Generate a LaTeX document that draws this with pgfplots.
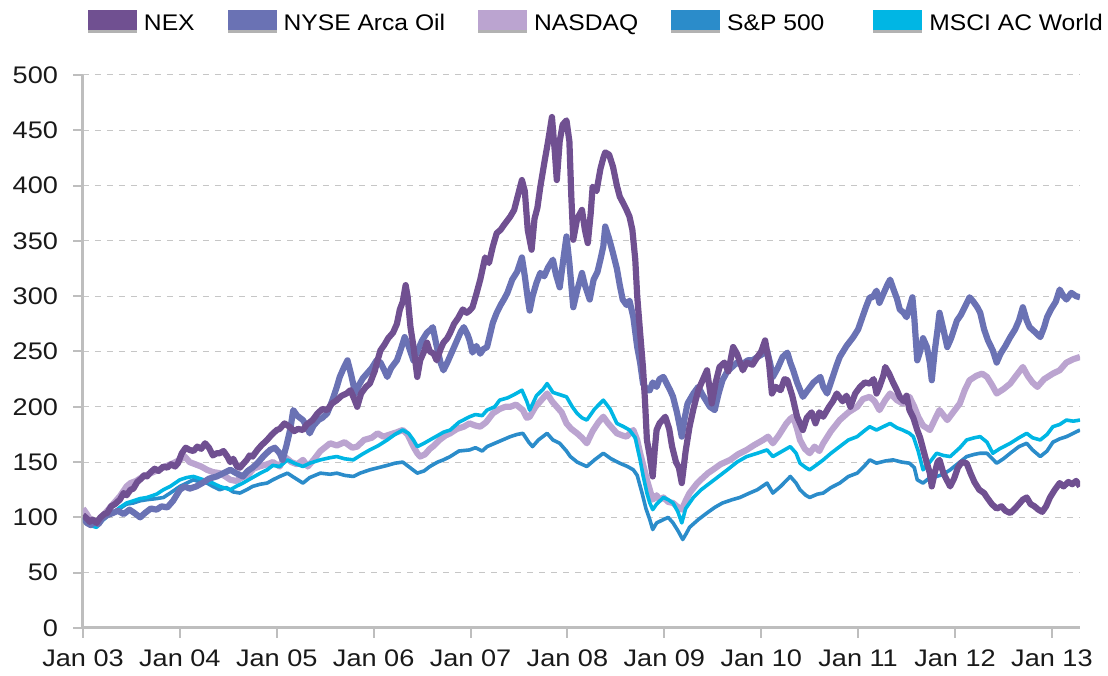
\documentclass[border=0pt]{standalone}
\usepackage{pgfplots}
\pgfplotsset{compat=1.18}
\usepackage{fontspec}
\setmainfont{Liberation Sans}
\definecolor{cnex}{RGB}{112,80,145}
\definecolor{cnyse}{RGB}{106,114,180}
\definecolor{cnasdaq}{RGB}{187,164,208}
\definecolor{csp}{RGB}{43,140,202}
\definecolor{cmsci}{RGB}{0,182,228}
\definecolor{axgray}{RGB}{190,190,190}
\newcommand{\wide}[1]{\scalebox{1.13}[1]{#1}}
\newcommand{\lwide}[1]{\scalebox{1.09}[1]{#1}}
\begin{document}
\begin{tikzpicture}
\begin{axis}[
  name=ax,
  scale only axis,
  width=498.5pt, height=276.5pt,
  xmin=2003, xmax=2013.29,
  ymin=0, ymax=500,
  ytick={0,50,...,500},
  yticklabel={\wide{\pgfmathprintnumber{\tick}}},
  xtick={2003,2004,2005,2006,2007,2008,2009,2010,2011,2012,2013},
  xticklabels={\wide{Jan 03},\wide{Jan 04},\wide{Jan 05},\wide{Jan 06},\wide{Jan 07},\wide{Jan 08},\wide{Jan 09},\wide{Jan 10},\wide{Jan 11},\wide{Jan 12},\wide{Jan 13}},
  axis x line*=bottom, axis y line*=left,
  axis line style={axgray, line width=1.5pt},
  every tick/.style={axgray, line width=1pt},
  tick align=outside,
  major tick length=5pt,
  ymajorgrids,
  grid style={gray!45, dashed, line width=0.5pt},
  /pgf/number format/assume math mode=true,
  ticklabel style={font=\fontsize{12}{14}\selectfont, text=black!90},
  yticklabel style={xshift=-4pt},
  xticklabel style={yshift=-2.5pt},
  legend columns=5,
  legend style={draw=none, fill=none, inner sep=0pt, outer sep=0pt,
    at={(0.005,1.117)}, anchor=north west,
    font=\fontsize{11.3}{13}\selectfont,
    /tikz/every odd column/.append style={column sep=1.5pt},
    /tikz/every even column/.append style={column sep=14.5pt}},
  legend image code/.code={
    \fill[black!30] (0pt,-4.5pt) rectangle (24.5pt,5.5pt);
    \fill (0pt,-3.2pt) rectangle (24.5pt,6.8pt);},
  line join=round,
]
\addlegendimage{draw=none, fill=cnex}\addlegendentry{\lwide{NEX}}
\addlegendimage{draw=none, fill=cnyse}\addlegendentry{\lwide{NYSE Arca Oil}}
\addlegendimage{draw=none, fill=cnasdaq}\addlegendentry{\lwide{NASDAQ}}
\addlegendimage{draw=none, fill=csp}\addlegendentry{\lwide{S\&P 500}\kern8pt\mbox{}}
\addlegendimage{draw=none, fill=cmsci}\addlegendentry{\lwide{MSCI AC World}}

% NASDAQ
\addplot[cnasdaq, line width=3.1pt, forget plot] coordinates {
(2003.00,108)(2003.04,103)(2003.08,97)(2003.14,96)(2003.20,101)(2003.25,106)(2003.31,112)(2003.38,119)(2003.45,128)(2003.49,131)(2003.55,133)(2003.62,137)(2003.70,140)(2003.78,143)(2003.85,146)(2003.93,149)(2004.00,152)(2004.05,155)(2004.10,150)(2004.16,148)(2004.22,146)(2004.28,143)(2004.34,141)(2004.41,140)(2004.47,137)(2004.52,134)(2004.58,133)(2004.64,136)(2004.70,138)(2004.76,144)(2004.82,146)(2004.90,148)(2004.96,150)(2005.03,146)(2005.08,155)(2005.15,150)(2005.21,148)(2005.27,152)(2005.32,146)(2005.38,152)(2005.45,160)(2005.55,167)(2005.62,165)(2005.70,168)(2005.78,163)(2005.83,164)(2005.90,170)(2005.98,172)(2006.04,176)(2006.10,173)(2006.17,175)(2006.24,177)(2006.30,179)(2006.35,175)(2006.41,164)(2006.45,158)(2006.48,155)(2006.53,157)(2006.58,162)(2006.61,164)(2006.68,170)(2006.74,174)(2006.79,176)(2006.86,180)(2006.93,182)(2006.99,185)(2007.05,183)(2007.10,182)(2007.16,186)(2007.23,194)(2007.30,198)(2007.36,200)(2007.41,200)(2007.47,202)(2007.54,197)(2007.58,190)(2007.61,191)(2007.67,200)(2007.72,205)(2007.79,212)(2007.84,205)(2007.89,200)(2007.94,195)(2007.99,185)(2008.04,180)(2008.10,176)(2008.15,172)(2008.20,167)(2008.26,178)(2008.32,186)(2008.37,191)(2008.42,185)(2008.47,180)(2008.51,176)(2008.57,174)(2008.61,173)(2008.68,179)(2008.72,170)(2008.75,158)(2008.78,148)(2008.82,134)(2008.85,125)(2008.88,116)(2008.92,120)(2008.95,116)(2008.99,118)(2009.04,114)(2009.09,113)(2009.13,110)(2009.18,107)(2009.22,115)(2009.26,122)(2009.34,131)(2009.40,136)(2009.45,140)(2009.50,143)(2009.58,148)(2009.68,152)(2009.76,157)(2009.85,161)(2009.92,165)(2010.02,170)(2010.07,173)(2010.12,167)(2010.18,174)(2010.26,185)(2010.30,189)(2010.33,191)(2010.37,180)(2010.40,170)(2010.45,162)(2010.50,158)(2010.55,164)(2010.60,160)(2010.64,167)(2010.72,178)(2010.81,188)(2010.90,195)(2010.99,200)(2011.05,207)(2011.12,209)(2011.17,205)(2011.22,197)(2011.28,206)(2011.33,212)(2011.40,206)(2011.46,203)(2011.53,209)(2011.58,200)(2011.62,191)(2011.67,183)(2011.74,179)(2011.80,190)(2011.84,197)(2011.92,188)(2011.98,195)(2012.05,203)(2012.10,215)(2012.15,224)(2012.22,228)(2012.28,230)(2012.33,227)(2012.38,220)(2012.43,212)(2012.50,216)(2012.57,221)(2012.63,228)(2012.70,236)(2012.75,228)(2012.80,222)(2012.85,218)(2012.92,225)(2013.01,230)(2013.08,233)(2013.15,240)(2013.22,243)(2013.29,245)
};
% S&P 500
\addplot[csp, line width=1.8pt, forget plot] coordinates {
(2003.00,98)(2003.05,96)(2003.10,94)(2003.14,95)(2003.20,99)(2003.25,101)(2003.31,104)(2003.38,108)(2003.45,112)(2003.52,113)(2003.59,115)(2003.66,116)(2003.76,117)(2003.83,118)(2003.90,122)(2004.00,128)(2004.07,131)(2004.14,134)(2004.21,132)(2004.28,131)(2004.34,128)(2004.41,125)(2004.48,127)(2004.55,123)(2004.62,122)(2004.69,125)(2004.75,128)(2004.83,130)(2004.90,131)(2004.96,134)(2005.03,137)(2005.11,140)(2005.18,136)(2005.27,131)(2005.34,136)(2005.45,140)(2005.55,139)(2005.62,140)(2005.70,138)(2005.79,137)(2005.86,140)(2005.96,143)(2006.05,145)(2006.14,147)(2006.22,149)(2006.30,150)(2006.36,146)(2006.45,140)(2006.52,142)(2006.58,146)(2006.66,150)(2006.72,152)(2006.79,155)(2006.88,160)(2006.99,161)(2007.05,163)(2007.12,160)(2007.17,164)(2007.25,167)(2007.33,170)(2007.41,173)(2007.48,175)(2007.54,176)(2007.60,168)(2007.64,164)(2007.70,170)(2007.79,176)(2007.85,170)(2007.92,167)(2007.99,160)(2008.03,155)(2008.10,150)(2008.20,146)(2008.28,152)(2008.37,158)(2008.45,153)(2008.54,149)(2008.62,146)(2008.68,143)(2008.72,138)(2008.77,122)(2008.81,108)(2008.85,98)(2008.88,89)(2008.92,95)(2008.99,98)(2009.04,100)(2009.09,95)(2009.14,88)(2009.19,80)(2009.23,86)(2009.26,91)(2009.35,98)(2009.44,104)(2009.52,109)(2009.60,113)(2009.70,116)(2009.78,118)(2009.88,122)(2009.96,125)(2010.06,131)(2010.12,122)(2010.20,128)(2010.30,137)(2010.36,131)(2010.40,125)(2010.46,120)(2010.50,118)(2010.58,121)(2010.64,122)(2010.72,127)(2010.81,131)(2010.90,137)(2010.99,140)(2011.06,146)(2011.12,152)(2011.19,149)(2011.28,151)(2011.36,152)(2011.45,150)(2011.53,149)(2011.58,145)(2011.61,134)(2011.67,131)(2011.74,136)(2011.81,137)(2011.88,139)(2011.95,143)(2012.05,150)(2012.12,155)(2012.20,157)(2012.26,158)(2012.33,158)(2012.43,149)(2012.50,153)(2012.57,158)(2012.66,164)(2012.74,167)(2012.80,161)(2012.88,155)(2012.95,160)(2013.01,168)(2013.08,171)(2013.15,173)(2013.22,176)(2013.29,179)
};
% MSCI AC World
\addplot[cmsci, line width=1.8pt, forget plot] coordinates {
(2003.00,100)(2003.05,96)(2003.10,92)(2003.14,91)(2003.20,97)(2003.25,101)(2003.31,104)(2003.38,109)(2003.45,113)(2003.52,115)(2003.59,117)(2003.66,118)(2003.76,121)(2003.83,125)(2003.90,128)(2004.00,134)(2004.07,136)(2004.14,137)(2004.21,135)(2004.28,133)(2004.34,131)(2004.41,128)(2004.52,125)(2004.58,128)(2004.65,131)(2004.75,136)(2004.83,140)(2004.90,143)(2004.96,147)(2005.03,146)(2005.11,152)(2005.18,149)(2005.27,146)(2005.34,149)(2005.45,152)(2005.55,154)(2005.62,155)(2005.70,153)(2005.79,152)(2005.88,157)(2005.96,161)(2006.05,165)(2006.14,170)(2006.22,175)(2006.30,179)(2006.36,176)(2006.41,170)(2006.45,164)(2006.52,167)(2006.58,170)(2006.66,174)(2006.72,177)(2006.79,179)(2006.88,186)(2006.99,191)(2007.05,193)(2007.12,192)(2007.17,197)(2007.25,200)(2007.30,206)(2007.38,208)(2007.45,211)(2007.53,215)(2007.58,205)(2007.61,197)(2007.68,210)(2007.75,216)(2007.79,221)(2007.85,213)(2007.92,211)(2007.99,209)(2008.05,200)(2008.10,194)(2008.15,190)(2008.20,188)(2008.28,198)(2008.37,206)(2008.44,198)(2008.51,185)(2008.58,182)(2008.64,179)(2008.70,172)(2008.75,152)(2008.78,138)(2008.82,122)(2008.85,113)(2008.88,107)(2008.92,112)(2008.99,118)(2009.04,116)(2009.09,113)(2009.14,105)(2009.18,95)(2009.22,108)(2009.30,118)(2009.38,125)(2009.47,131)(2009.56,137)(2009.65,143)(2009.75,150)(2009.85,155)(2009.96,158)(2010.06,161)(2010.12,155)(2010.20,159)(2010.30,164)(2010.36,158)(2010.40,149)(2010.46,145)(2010.50,143)(2010.58,148)(2010.64,152)(2010.72,158)(2010.81,164)(2010.90,170)(2010.99,173)(2011.06,178)(2011.12,182)(2011.19,179)(2011.26,182)(2011.33,185)(2011.40,181)(2011.46,179)(2011.53,176)(2011.57,173)(2011.62,160)(2011.67,143)(2011.74,150)(2011.81,158)(2011.88,156)(2011.95,155)(2012.05,163)(2012.12,170)(2012.20,172)(2012.26,173)(2012.33,168)(2012.39,158)(2012.46,162)(2012.57,167)(2012.66,172)(2012.74,176)(2012.80,172)(2012.88,170)(2012.95,175)(2013.01,182)(2013.08,184)(2013.15,188)(2013.22,187)(2013.29,188)
};
% NYSE Arca Oil
\addplot[cnyse, line width=3.1pt, forget plot] coordinates {
(2003.00,100)(2003.04,95)(2003.08,93)(2003.12,96)(2003.16,94)(2003.20,99)(2003.25,102)(2003.31,104)(2003.36,106)(2003.42,103)(2003.48,107)(2003.53,104)(2003.59,100)(2003.64,104)(2003.70,108)(2003.76,107)(2003.81,110)(2003.87,109)(2003.93,115)(2004.00,125)(2004.05,128)(2004.10,126)(2004.17,128)(2004.23,131)(2004.30,135)(2004.38,137)(2004.45,140)(2004.52,143)(2004.58,140)(2004.65,137)(2004.70,142)(2004.75,145)(2004.80,149)(2004.86,155)(2004.93,161)(2004.98,163)(2005.03,158)(2005.06,152)(2005.10,165)(2005.14,180)(2005.17,197)(2005.21,192)(2005.27,188)(2005.31,182)(2005.34,176)(2005.38,183)(2005.43,188)(2005.47,190)(2005.52,194)(2005.57,205)(2005.62,218)(2005.65,227)(2005.69,235)(2005.73,242)(2005.77,228)(2005.81,212)(2005.85,220)(2005.89,226)(2005.93,230)(2005.98,235)(2006.03,242)(2006.07,240)(2006.11,233)(2006.14,227)(2006.18,235)(2006.24,242)(2006.28,252)(2006.32,263)(2006.36,255)(2006.41,242)(2006.45,250)(2006.50,260)(2006.55,267)(2006.59,270)(2006.61,272)(2006.65,255)(2006.69,240)(2006.72,233)(2006.76,240)(2006.81,250)(2006.86,260)(2006.90,268)(2006.93,272)(2006.97,265)(2006.99,260)(2007.02,249)(2007.06,255)(2007.10,248)(2007.13,252)(2007.17,254)(2007.20,265)(2007.23,276)(2007.27,285)(2007.31,292)(2007.35,298)(2007.38,303)(2007.43,315)(2007.48,322)(2007.53,335)(2007.56,318)(2007.59,298)(2007.61,287)(2007.64,300)(2007.68,312)(2007.72,321)(2007.76,318)(2007.80,326)(2007.85,333)(2007.88,320)(2007.92,308)(2007.96,335)(2007.99,354)(2008.02,330)(2008.06,290)(2008.10,305)(2008.15,321)(2008.18,310)(2008.23,297)(2008.27,315)(2008.31,322)(2008.34,333)(2008.37,345)(2008.39,363)(2008.43,352)(2008.47,339)(2008.51,325)(2008.54,310)(2008.57,297)(2008.61,292)(2008.64,296)(2008.68,281)(2008.72,254)(2008.75,240)(2008.78,221)(2008.82,215)(2008.85,215)(2008.88,222)(2008.92,218)(2008.95,225)(2008.99,227)(2009.03,220)(2009.06,215)(2009.09,209)(2009.13,195)(2009.18,173)(2009.21,190)(2009.24,203)(2009.30,212)(2009.35,218)(2009.40,210)(2009.47,200)(2009.52,197)(2009.56,212)(2009.60,224)(2009.65,232)(2009.70,236)(2009.75,240)(2009.80,238)(2009.86,242)(2009.91,242)(2009.96,245)(2010.02,248)(2010.06,251)(2010.09,240)(2010.12,227)(2010.17,235)(2010.22,245)(2010.27,249)(2010.30,240)(2010.33,233)(2010.37,222)(2010.43,209)(2010.48,215)(2010.54,222)(2010.61,227)(2010.64,218)(2010.68,212)(2010.73,225)(2010.78,238)(2010.81,245)(2010.88,255)(2010.95,263)(2011.00,270)(2011.04,280)(2011.08,290)(2011.12,299)(2011.15,299)(2011.19,305)(2011.22,294)(2011.26,302)(2011.30,310)(2011.33,315)(2011.37,305)(2011.40,298)(2011.43,288)(2011.47,285)(2011.50,281)(2011.53,290)(2011.56,299)(2011.58,280)(2011.61,242)(2011.64,250)(2011.67,262)(2011.71,254)(2011.74,240)(2011.76,224)(2011.79,250)(2011.82,270)(2011.84,285)(2011.88,270)(2011.92,254)(2011.96,262)(2012.02,278)(2012.06,283)(2012.10,290)(2012.15,299)(2012.19,295)(2012.23,290)(2012.26,285)(2012.30,270)(2012.34,260)(2012.39,251)(2012.43,240)(2012.47,248)(2012.52,255)(2012.57,263)(2012.62,270)(2012.66,278)(2012.70,290)(2012.74,278)(2012.77,272)(2012.82,268)(2012.88,263)(2012.92,272)(2012.95,281)(2012.99,288)(2013.04,295)(2013.08,306)(2013.12,300)(2013.15,297)(2013.20,303)(2013.25,300)(2013.29,299)
};
% NEX
\addplot[cnex, line width=3.1pt, forget plot] coordinates {
(2003.00,102)(2003.04,99)(2003.07,96)(2003.10,98)(2003.14,95)(2003.18,100)(2003.22,103)(2003.25,104)(2003.29,110)(2003.33,112)(2003.38,116)(2003.42,122)(2003.45,120)(2003.49,125)(2003.52,126)(2003.56,132)(2003.60,135)(2003.63,138)(2003.66,137)(2003.70,141)(2003.74,144)(2003.78,142)(2003.83,146)(2003.87,145)(2003.91,148)(2003.95,146)(2003.98,149)(2004.02,158)(2004.06,163)(2004.10,161)(2004.14,160)(2004.18,164)(2004.22,162)(2004.26,167)(2004.30,163)(2004.34,156)(2004.38,158)(2004.41,158)(2004.45,160)(2004.49,155)(2004.52,150)(2004.55,153)(2004.59,146)(2004.62,145)(2004.65,148)(2004.69,152)(2004.72,156)(2004.75,155)(2004.80,161)(2004.84,165)(2004.90,170)(2004.95,175)(2005.00,179)(2005.03,180)(2005.08,185)(2005.13,182)(2005.18,178)(2005.22,180)(2005.27,179)(2005.31,184)(2005.37,188)(2005.42,194)(2005.47,198)(2005.52,197)(2005.57,203)(2005.62,206)(2005.67,210)(2005.72,212)(2005.76,215)(2005.80,207)(2005.83,200)(2005.87,212)(2005.92,218)(2005.96,221)(2006.01,232)(2006.04,242)(2006.07,251)(2006.11,256)(2006.15,262)(2006.20,267)(2006.24,275)(2006.27,288)(2006.30,295)(2006.33,310)(2006.35,300)(2006.38,272)(2006.41,255)(2006.45,227)(2006.48,242)(2006.52,250)(2006.55,258)(2006.58,250)(2006.62,248)(2006.65,242)(2006.69,252)(2006.72,258)(2006.76,262)(2006.79,267)(2006.83,275)(2006.87,280)(2006.92,288)(2006.96,285)(2006.99,287)(2007.02,290)(2007.06,302)(2007.10,315)(2007.15,335)(2007.19,330)(2007.23,345)(2007.27,357)(2007.31,360)(2007.35,365)(2007.41,372)(2007.45,378)(2007.50,395)(2007.53,405)(2007.56,395)(2007.59,360)(2007.63,342)(2007.66,370)(2007.69,380)(2007.72,399)(2007.76,420)(2007.80,440)(2007.84,462)(2007.87,430)(2007.89,405)(2007.92,440)(2007.95,455)(2007.99,459)(2008.02,440)(2008.04,390)(2008.06,351)(2008.10,370)(2008.15,378)(2008.18,360)(2008.21,348)(2008.24,375)(2008.26,399)(2008.30,395)(2008.34,415)(2008.37,425)(2008.39,430)(2008.43,428)(2008.47,417)(2008.51,400)(2008.54,390)(2008.57,385)(2008.61,378)(2008.64,372)(2008.67,360)(2008.70,333)(2008.72,300)(2008.75,267)(2008.78,235)(2008.80,206)(2008.82,170)(2008.85,155)(2008.88,137)(2008.90,160)(2008.92,179)(2008.95,185)(2009.01,191)(2009.05,180)(2009.08,164)(2009.12,150)(2009.15,145)(2009.18,131)(2009.22,160)(2009.26,182)(2009.30,198)(2009.35,215)(2009.40,225)(2009.44,233)(2009.49,203)(2009.53,222)(2009.57,236)(2009.62,240)(2009.66,232)(2009.71,254)(2009.75,248)(2009.81,233)(2009.85,240)(2009.91,238)(2009.96,245)(2010.00,250)(2010.04,260)(2010.08,240)(2010.11,212)(2010.15,218)(2010.20,215)(2010.24,225)(2010.27,224)(2010.32,210)(2010.37,191)(2010.40,185)(2010.43,179)(2010.47,190)(2010.52,195)(2010.56,185)(2010.60,195)(2010.64,191)(2010.70,200)(2010.74,205)(2010.78,212)(2010.84,205)(2010.88,210)(2010.92,200)(2010.97,212)(2011.02,218)(2011.07,222)(2011.12,221)(2011.16,225)(2011.19,212)(2011.22,218)(2011.26,228)(2011.28,236)(2011.32,230)(2011.36,222)(2011.40,215)(2011.43,209)(2011.47,205)(2011.50,210)(2011.53,197)(2011.57,190)(2011.61,179)(2011.64,172)(2011.67,162)(2011.71,149)(2011.74,140)(2011.76,128)(2011.79,140)(2011.82,150)(2011.84,152)(2011.88,140)(2011.92,133)(2011.95,128)(2011.99,135)(2012.03,145)(2012.07,150)(2012.12,149)(2012.16,140)(2012.20,132)(2012.25,125)(2012.30,122)(2012.33,118)(2012.38,112)(2012.43,108)(2012.48,110)(2012.52,106)(2012.57,104)(2012.62,108)(2012.66,112)(2012.70,116)(2012.74,118)(2012.78,112)(2012.82,110)(2012.86,107)(2012.90,105)(2012.94,110)(2012.98,118)(2013.03,125)(2013.08,131)(2013.12,128)(2013.17,132)(2013.21,130)(2013.25,133)(2013.29,128)
};
\end{axis}
\pgfresetboundingbox
\path ([xshift=-41.5pt,yshift=-24pt]ax.south west) rectangle ([xshift=14pt,yshift=37.5pt]ax.north east);
\end{tikzpicture}
\end{document}
